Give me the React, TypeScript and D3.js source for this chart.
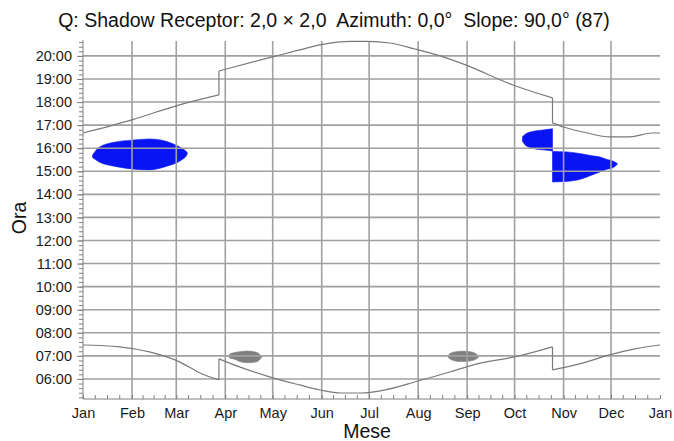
import { useEffect, useRef } from "react";
import * as d3 from "d3";

// month labels along the bottom (start of each month + closing Jan)
const monthLabels = ["Jan", "Feb", "Mar", "Apr", "May", "Jun", "Jul", "Aug", "Sep", "Oct", "Nov", "Dec", "Jan"];
const hourTicks = [6, 7, 8, 9, 10, 11, 12, 13, 14, 15, 16, 17, 18, 19, 20];

// sunset curve (upper gray line), with DST jumps
const sunsetDates = [
  "2015-01-01", "2015-02-01", "2015-03-03", "2015-03-28", "2015-03-28", "2015-05-01", "2015-05-18",
  "2015-05-31", "2015-06-20", "2015-06-30", "2015-07-14", "2015-07-30", "2015-08-15", "2015-08-31",
  "2015-09-30", "2015-10-25", "2015-10-25", "2015-11-01", "2015-11-16", "2015-11-30", "2015-12-13",
  "2015-12-27", "2016-01-01",
];
const sunsetHours = [
  16.66, 17.23, 17.88, 18.31, 19.35, 19.96, 20.26,
  20.48, 20.63, 20.63, 20.56, 20.3, 20.0, 19.61,
  18.74, 18.18, 17.1, 16.92, 16.66, 16.49, 16.49,
  16.66, 16.66,
];

// sunrise curve (lower gray line)
const sunriseDates = [
  "2015-01-01", "2015-01-24", "2015-02-12", "2015-03-03", "2015-03-16", "2015-03-28", "2015-03-28",
  "2015-04-10", "2015-04-29", "2015-05-18", "2015-05-31", "2015-06-13", "2015-06-26", "2015-07-08",
  "2015-08-01", "2015-08-21", "2015-09-05", "2015-10-04", "2015-10-25", "2015-10-25", "2015-11-11",
  "2015-11-30", "2015-12-16", "2016-01-01",
];
const sunriseHours = [
  7.47, 7.39, 7.17, 6.74, 6.26, 5.96, 6.87,
  6.52, 6.09, 5.74, 5.52, 5.39, 5.39, 5.48,
  5.91, 6.3, 6.61, 7.0, 7.39, 6.39, 6.65,
  7.04, 7.3, 7.47,
];

// shadow periods (blue): winter block
const winterDates = [
  "2015-01-07", "2015-01-11", "2015-01-20", "2015-02-01", "2015-02-12", "2015-02-18",
  "2015-02-23", "2015-03-01", "2015-03-05", "2015-03-07", "2015-03-08",
];
const winterStart = [15.6, 15.41, 15.23, 15.1, 15.06, 15.12, 15.22, 15.36, 15.52, 15.64, 15.76];
const winterEnd = [15.7, 16.03, 16.25, 16.35, 16.4, 16.37, 16.29, 16.13, 15.98, 15.88, 15.8];

// shadow periods (blue): autumn block, before and after the DST change
const autumnDates = ["2015-10-06", "2015-10-08", "2015-10-11", "2015-10-14", "2015-10-19", "2015-10-25"];
const autumnStart = [16.3, 16.12, 16.03, 15.97, 15.93, 15.88];
const autumnEnd = [16.5, 16.62, 16.7, 16.75, 16.79, 16.84];

const lateDates = [
  "2015-10-25", "2015-11-03", "2015-11-12", "2015-11-19", "2015-11-24", "2015-11-28",
  "2015-12-02", "2015-12-04", "2015-12-05",
];
const lateStart = [14.54, 14.56, 14.66, 14.84, 14.97, 15.08, 15.15, 15.24, 15.31];
const lateEnd = [15.86, 15.84, 15.76, 15.67, 15.62, 15.52, 15.45, 15.38, 15.33];

// gray patches (morning)
const aprilDates = ["2015-04-03", "2015-04-04", "2015-04-06", "2015-04-10", "2015-04-15", "2015-04-21", "2015-04-23", "2015-04-24"];
const aprilStart = [6.96, 6.9, 6.87, 6.76, 6.7, 6.74, 6.85, 6.93];
const aprilEnd = [7.0, 7.08, 7.13, 7.18, 7.21, 7.15, 7.05, 6.97];

const augustDates = ["2015-08-20", "2015-08-22", "2015-08-28", "2015-09-03", "2015-09-07", "2015-09-08"];
const augustStart = [6.93, 6.83, 6.75, 6.78, 6.87, 6.93];
const augustEnd = [7.02, 7.13, 7.2, 7.18, 7.07, 7.0];

const FONT = "'Liberation Sans', Arial, sans-serif";

const App = () => {
  const svgRef = useRef<SVGSVGElement>(null);

  useEffect(() => {
    const w = 674;
    const h = 441;
    const left = 83, right = 660, top = 40, bottom = 399;

    const svg = d3.select(svgRef.current).attr("width", w).attr("height", h);
    svg.selectAll("*").remove();

    const parse = d3.timeParse("%Y-%m-%d");
    const x = d3.scaleTime()
      .domain([new Date(2015, 0, 1), new Date(2016, 0, 1)])
      .range([left, right]);
    const y = d3.scaleLinear().domain([5.13, 20.69]).range([bottom, top]);

    const monthStarts = d3.timeMonth.range(new Date(2015, 0, 1), new Date(2016, 0, 2));

    type Row = { date: Date; lo: number; hi: number };
    const toRows = (dates: string[], lo: number[], hi: number[]): Row[] =>
      dates.map((d, i) => ({ date: parse(d) as Date, lo: lo[i], hi: hi[i] }));

    const area = d3.area<Row>()
      .x(d => x(d.date))
      .y0(d => y(d.lo))
      .y1(d => y(d.hi))
      .curve(d3.curveMonotoneX);

    // shadow areas
    const blue = "#0814f2";
    const shapes = [
      { rows: toRows(winterDates, winterStart, winterEnd), fill: blue },
      { rows: toRows(autumnDates, autumnStart, autumnEnd), fill: blue },
      { rows: toRows(lateDates, lateStart, lateEnd), fill: blue },
      { rows: toRows(aprilDates, aprilStart, aprilEnd), fill: "#808080" },
      { rows: toRows(augustDates, augustStart, augustEnd), fill: "#808080" },
    ];
    svg.append("g")
      .selectAll("path")
      .data(shapes)
      .join("path")
      .attr("d", d => area(d.rows))
      .attr("fill", d => d.fill)
      .attr("stroke", d => d.fill)
      .attr("stroke-width", 0.6);

    // grid
    const grid = svg.append("g").attr("stroke", "#a0a0a0").attr("stroke-width", 1.6);
    grid.selectAll("line.h")
      .data(hourTicks)
      .join("line")
      .attr("class", "h")
      .attr("x1", left).attr("x2", right)
      .attr("y1", d => y(d)).attr("y2", d => y(d));
    grid.selectAll("line.v")
      .data(monthStarts.slice(1, 12))
      .join("line")
      .attr("class", "v")
      .attr("x1", d => x(d)).attr("x2", d => x(d))
      .attr("y1", top + 1).attr("y2", bottom);

    // sunrise / sunset lines, split at DST jumps, smooth inside each piece
    const line = d3.line<[Date, number]>().x(d => x(d[0])).y(d => y(d[1])).curve(d3.curveMonotoneX);
    const split = (dates: string[], hours: number[]) => {
      const parts: [Date, number][][] = [[]];
      dates.forEach((d, i) => {
        if (i > 0 && d === dates[i - 1]) parts.push([]);
        parts[parts.length - 1].push([parse(d) as Date, hours[i]]);
      });
      return parts;
    };
    const curveGroup = svg.append("g")
      .attr("fill", "none")
      .attr("stroke", "#7a7a7a")
      .attr("stroke-width", 1.2);
    [split(sunsetDates, sunsetHours), split(sunriseDates, sunriseHours)].forEach(parts => {
      curveGroup.append("g")
        .selectAll("path")
        .data(parts)
        .join("path")
        .attr("d", d => line(d));
      curveGroup.append("g")
        .selectAll("line")
        .data(parts.slice(1).map((p, i) => [parts[i][parts[i].length - 1], p[0]]))
        .join("line")
        .attr("x1", d => x(d[0][0])).attr("x2", d => x(d[1][0]))
        .attr("y1", d => y(d[0][1])).attr("y2", d => y(d[1][1]));
    });

    // y axis: minor ticks every 12 minutes, labels every hour
    const yMinor = d3.axisLeft(y).tickValues(d3.range(5.2, 20.69, 0.2)).tickSize(4).tickFormat(() => "");
    const yMajor = d3.axisLeft(y)
      .tickValues(hourTicks)
      .tickSize(6)
      .tickPadding(5)
      .tickFormat(d => `${String(d).padStart(2, "0")}:00`);
    const gyMinor = svg.append("g").attr("transform", `translate(${left},0)`).call(yMinor);
    gyMinor.select(".domain").remove();
    const gy = svg.append("g").attr("transform", `translate(${left},0)`).call(yMajor);

    // x axis: ticks inside at quarter months
    const quarters: number[] = [];
    for (let m = 0; m < 12; m++) {
      const a = x(monthStarts[m]);
      const b = x(monthStarts[m + 1]);
      for (let k = 1; k < 4; k++) quarters.push(a + ((b - a) * k) / 4);
    }
    svg.append("g")
      .attr("stroke", "#808080")
      .selectAll("line")
      .data(quarters)
      .join("line")
      .attr("x1", d => d).attr("x2", d => d)
      .attr("y1", bottom - 4).attr("y2", bottom);

    const xAxis = d3.axisBottom(x)
      .tickValues(monthStarts)
      .tickSize(-4)
      .tickPadding(9)
      .tickFormat((_, i) => monthLabels[i]);
    const gx = svg.append("g").attr("transform", `translate(0,${bottom})`).call(xAxis);

    [gx, gy, gyMinor].forEach(g => {
      g.selectAll(".domain").attr("stroke", "#808080");
      g.selectAll(".tick line").attr("stroke", "#808080");
      g.selectAll("text").attr("fill", "#1a1a1a").attr("font-size", 14.5).attr("font-family", FONT);
    });
    gy.select(".domain").attr("d", `M0,${top}V${bottom}`);
    gx.select(".domain").attr("d", `M${left},0H${right}`);

    // titles
    svg.append("text")
      .attr("x", 334).attr("y", 27)
      .attr("text-anchor", "middle")
      .attr("font-family", FONT)
      .attr("font-size", 19.5)
      .attr("fill", "#111")
      .style("white-space", "pre")
      .text("Q: Shadow Receptor: 2,0 × 2,0  Azimuth: 0,0°  Slope: 90,0° (87)");

    svg.append("text")
      .attr("x", 367).attr("y", 438)
      .attr("text-anchor", "middle")
      .attr("font-family", FONT)
      .attr("font-size", 19.5)
      .attr("fill", "#111")
      .text("Mese");

    svg.append("text")
      .attr("transform", `translate(26,218) rotate(-90)`)
      .attr("text-anchor", "middle")
      .attr("font-family", FONT)
      .attr("font-size", 19.5)
      .attr("fill", "#111")
      .text("Ora");
  }, []);

  return (
    <svg ref={svgRef} style={{ position: "absolute", left: 0, top: 0, background: "#fff" }}></svg>
  );
};

export default App;
